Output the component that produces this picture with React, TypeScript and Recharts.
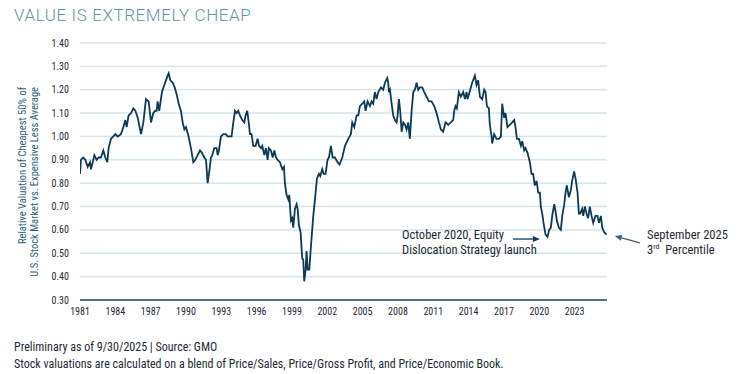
import { LineChart, Line, XAxis, YAxis, CartesianGrid, ReferenceLine } from 'recharts';

// relative valuation (decimal year / value)
const years = [
    1981.00, 1981.08, 1981.28, 1981.45, 1981.65, 1981.85, 1981.93, 1982.08, 1982.22, 1982.41,
    1982.58, 1982.78, 1982.98, 1983.15, 1983.32, 1983.43, 1983.63, 1983.83, 1984.00, 1984.20,
    1984.48, 1984.68, 1984.85, 1984.96, 1985.13, 1985.33, 1985.53, 1985.70, 1985.90, 1986.18,
    1986.38, 1986.60, 1986.83, 1987.03, 1987.22, 1987.39, 1987.51, 1987.59, 1987.73, 1987.96,
    1988.16, 1988.30, 1988.44, 1988.53, 1988.67, 1988.87, 1989.04, 1989.21, 1989.38, 1989.57,
    1989.72, 1989.86, 1990.00, 1990.22, 1990.42, 1990.62, 1990.79, 1990.99, 1991.19, 1991.36,
    1991.55, 1991.70, 1991.84, 1991.98, 1992.12, 1992.23, 1992.40, 1992.60, 1992.69, 1992.80,
    1992.97, 1993.17, 1993.37, 1993.54, 1993.73, 1993.87, 1994.02, 1994.16, 1994.30, 1994.44,
    1994.58, 1994.78, 1994.95, 1995.06, 1995.20, 1995.35, 1995.43, 1995.57, 1995.71, 1995.91,
    1996.08, 1996.20, 1996.37, 1996.48, 1996.65, 1996.79, 1996.93, 1997.04, 1997.21, 1997.36,
    1997.50, 1997.64, 1997.78, 1997.98, 1998.18, 1998.32, 1998.40, 1998.54, 1998.69, 1998.77,
    1998.91, 1999.02, 1999.11, 1999.25, 1999.39, 1999.48, 1999.59, 1999.73, 1999.87, 1999.96,
    2000.04, 2000.16, 2000.24, 2000.33, 2000.47, 2000.61, 2000.81, 2000.95, 2001.12, 2001.29,
    2001.40, 2001.57, 2001.69, 2001.85, 2002.02, 2002.14, 2002.31, 2002.45, 2002.65, 2002.87,
    2003.04, 2003.27, 2003.50, 2003.78, 2004.00, 2004.12, 2004.29, 2004.49, 2004.63, 2004.77,
    2004.97, 2005.14, 2005.25, 2005.42, 2005.62, 2005.76, 2005.90, 2006.04, 2006.18, 2006.33,
    2006.55, 2006.75, 2006.89, 2007.09, 2007.17, 2007.23, 2007.32, 2007.46, 2007.60, 2007.74,
    2007.88, 2007.97, 2008.08, 2008.19, 2008.31, 2008.45, 2008.59, 2008.73, 2008.87, 2009.01,
    2009.16, 2009.30, 2009.44, 2009.58, 2009.72, 2009.86, 2010.06, 2010.23, 2010.43, 2010.63,
    2010.85, 2011.08, 2011.28, 2011.48, 2011.65, 2011.84, 2012.04, 2012.27, 2012.49, 2012.69,
    2012.78, 2012.89, 2013.00, 2013.17, 2013.34, 2013.54, 2013.68, 2013.82, 2013.91, 2014.08,
    2014.30, 2014.53, 2014.67, 2014.81, 2014.96, 2015.15, 2015.32, 2015.44, 2015.55, 2015.72,
    2015.80, 2015.95, 2016.00, 2016.17, 2016.37, 2016.57, 2016.74, 2016.85, 2017.02, 2017.13,
    2017.30, 2017.50, 2017.70, 2017.87, 2017.98, 2018.10, 2018.27, 2018.44, 2018.55, 2018.72,
    2018.83, 2019.00, 2019.20, 2019.34, 2019.48, 2019.62, 2019.77, 2019.91, 2020.05, 2020.13,
    2020.25, 2020.36, 2020.53, 2020.70, 2020.84, 2020.98, 2021.10, 2021.27, 2021.38, 2021.49,
    2021.66, 2021.83, 2021.95, 2022.12, 2022.23, 2022.34, 2022.51, 2022.68, 2022.79, 2022.96,
    2023.08, 2023.25, 2023.36, 2023.47, 2023.64, 2023.73, 2023.87, 2024.01, 2024.15, 2024.29,
    2024.44, 2024.58, 2024.77, 2024.94, 2025.06, 2025.23, 2025.34, 2025.51, 2025.71,
];

const values = [
    0.84, 0.90, 0.91, 0.90, 0.87, 0.89, 0.86, 0.89, 0.92, 0.90,
    0.91, 0.91, 0.94, 0.91, 0.89, 0.95, 0.99, 1.00, 1.01, 1.00,
    1.01, 1.04, 1.07, 1.04, 1.09, 1.10, 1.12, 1.11, 1.08, 1.01,
    1.06, 1.16, 1.15, 1.06, 1.10, 1.11, 1.11, 1.15, 1.11, 1.19,
    1.22, 1.24, 1.26, 1.27, 1.24, 1.23, 1.21, 1.18, 1.14, 1.11,
    1.06, 1.03, 1.04, 1.00, 0.95, 0.89, 0.90, 0.92, 0.94, 0.93,
    0.91, 0.90, 0.80, 0.85, 0.91, 0.92, 0.95, 0.95, 0.92, 0.94,
    1.00, 1.01, 1.01, 1.00, 1.00, 1.00, 1.06, 1.11, 1.10, 1.11,
    1.09, 1.07, 1.06, 1.09, 1.11, 1.05, 1.01, 1.01, 0.96, 0.96,
    0.99, 0.96, 0.95, 0.96, 0.92, 0.95, 0.90, 0.95, 0.94, 0.91,
    0.94, 0.91, 0.90, 0.89, 0.86, 0.87, 0.80, 0.75, 0.73, 0.75,
    0.64, 0.65, 0.61, 0.69, 0.71, 0.69, 0.62, 0.59, 0.48, 0.47,
    0.38, 0.43, 0.51, 0.43, 0.43, 0.53, 0.66, 0.73, 0.82, 0.84,
    0.83, 0.86, 0.84, 0.84, 0.90, 0.91, 0.96, 0.91, 0.91, 0.89,
    0.88, 0.91, 0.96, 0.99, 1.01, 1.06, 1.04, 1.09, 1.09, 1.13,
    1.14, 1.15, 1.11, 1.15, 1.13, 1.15, 1.14, 1.19, 1.16, 1.19,
    1.21, 1.20, 1.23, 1.25, 1.23, 1.19, 1.20, 1.14, 1.09, 1.07,
    1.06, 1.09, 1.16, 1.11, 1.02, 1.06, 1.05, 1.03, 1.06, 0.99,
    1.11, 1.19, 1.20, 1.23, 1.20, 1.21, 1.21, 1.19, 1.17, 1.15,
    1.15, 1.13, 1.10, 1.06, 1.03, 1.02, 1.06, 1.05, 1.06, 1.07,
    1.11, 1.13, 1.12, 1.19, 1.17, 1.19, 1.16, 1.19, 1.16, 1.19,
    1.23, 1.26, 1.22, 1.24, 1.17, 1.16, 1.20, 1.19, 1.13, 1.12,
    1.05, 1.00, 0.97, 1.01, 0.99, 0.99, 1.00, 1.14, 1.08, 1.10,
    1.04, 1.05, 1.06, 1.07, 1.04, 0.99, 0.99, 0.96, 0.98, 0.94,
    0.95, 0.93, 0.89, 0.84, 0.84, 0.79, 0.81, 0.76, 0.76, 0.70,
    0.67, 0.63, 0.58, 0.57, 0.60, 0.61, 0.66, 0.71, 0.68, 0.64,
    0.61, 0.60, 0.66, 0.71, 0.76, 0.79, 0.74, 0.77, 0.81, 0.85,
    0.82, 0.76, 0.67, 0.67, 0.69, 0.66, 0.70, 0.67, 0.65, 0.70,
    0.66, 0.63, 0.66, 0.66, 0.63, 0.66, 0.61, 0.59, 0.58,
];

const xTicks = [1981, 1984, 1987, 1990, 1993, 1996, 1999, 2002, 2005, 2008, 2011, 2014, 2017, 2020, 2023];
const yTicks = [0.3, 0.4, 0.5, 0.6, 0.7, 0.8, 0.9, 1.0, 1.1, 1.2, 1.3, 1.4];

const data = years.map((year, i) => ({ year, value: values[i] }));

const FONT = "'Liberation Sans Narrow', 'Roboto Condensed', 'DejaVu Sans Condensed', Roboto, sans-serif";
const LINE_COLOR = '#0c3a57';
const TEXT_DARK = '#1e2a36';

// arrow drawn as a reference segment with a small head at the end point
function Arrow(props: any) {
    const { x1, y1, x2, y2, stroke } = props;
    if ([x1, y1, x2, y2].some((v) => v == null || isNaN(v))) return null;
    const a = Math.atan2(y2 - y1, x2 - x1);
    const len = 7, half = 3;
    const bx = x2 - len * Math.cos(a), by = y2 - len * Math.sin(a);
    const p = `${x2},${y2} ${bx + half * Math.sin(a)},${by - half * Math.cos(a)} ${bx - half * Math.sin(a)},${by + half * Math.cos(a)}`;
    return (
        <g>
            <line x1={x1} y1={y1} x2={bx} y2={by} stroke={stroke} strokeWidth={1.3} />
            <polygon points={p} fill={stroke} />
        </g>
    );
}

export default function App() {
    return (
        <div style={{ position: 'absolute', left: 0, top: 0, width: 748, height: 374, background: '#fff', fontFamily: FONT }}>
            <div style={{ position: 'absolute', left: 14, top: 5, fontFamily: 'Roboto, sans-serif', fontWeight: 300, fontSize: 17, letterSpacing: 0.6, color: '#5e95a2' }}>
                VALUE IS EXTREMELY CHEAP
            </div>

            <div style={{
                position: 'absolute', left: -66, top: 170, width: 190, height: 24,
                transform: 'rotate(-90deg)', transformOrigin: 'center',
                textAlign: 'right', fontSize: 10.5, lineHeight: '12px', color: '#2d5f7c', whiteSpace: 'nowrap',
            }}>
                <div>Relative Valuation of Cheapest 50% of</div>
                <div>U.S. Stock Market vs. Expensive Less Average</div>
            </div>

            <div style={{ position: 'absolute', left: 0, top: 0 }}>
                <LineChart width={748} height={374} data={data} margin={{ top: 43, right: 141, bottom: 54, left: 0 }}>
                    <CartesianGrid horizontal vertical={false} stroke="#d3e5ee" strokeWidth={1.5} />
                    <XAxis
                        dataKey="year"
                        type="number"
                        domain={[1981, 2025.75]}
                        ticks={xTicks}
                        interval={0}
                        allowDataOverflow
                        height={20}
                        tickLine={false}
                        tickSize={0}
                        tickMargin={8}
                        axisLine={{ stroke: '#24475c', strokeWidth: 1.5 }}
                        tick={{ fontSize: 10, fill: TEXT_DARK, fontFamily: FONT }}
                    />
                    <YAxis
                        type="number"
                        domain={[0.3, 1.4]}
                        ticks={yTicks}
                        interval={0}
                        width={80}
                        axisLine={false}
                        tickLine={false}
                        tickSize={0}
                        tickMargin={11}
                        tickFormatter={(v: number) => v.toFixed(2)}
                        tick={{ fontSize: 10, fill: TEXT_DARK, fontFamily: FONT }}
                    />
                    <Line
                        type="linear"
                        dataKey="value"
                        stroke={LINE_COLOR}
                        strokeWidth={1.8}
                        dot={false}
                        isAnimationActive={false}
                    />
                    <ReferenceLine
                        segment={[{ x: 2017.76, y: 0.561 }, { x: 2020.05, y: 0.561 }]}
                        stroke={LINE_COLOR}
                        ifOverflow="visible"
                        shape={Arrow}
                    />
                    <ReferenceLine
                        segment={[{ x: 2028.54, y: 0.544 }, { x: 2026.42, y: 0.574 }]}
                        stroke="#3e5f76"
                        ifOverflow="visible"
                        shape={Arrow}
                    />
                </LineChart>
            </div>

            <div style={{ position: 'absolute', left: 402, top: 227, fontSize: 12.5, lineHeight: '15px', color: TEXT_DARK, whiteSpace: 'nowrap' }}>
                <div>October 2020, Equity</div>
                <div>Dislocation Strategy launch</div>
            </div>
            <div style={{ position: 'absolute', left: 647, top: 227, fontSize: 12.5, lineHeight: '15px', color: TEXT_DARK, whiteSpace: 'nowrap' }}>
                <div>September 2025</div>
                <div>3<sup style={{ fontSize: 8, lineHeight: 0 }}>rd</sup>&nbsp; Percentile</div>
            </div>

            <div style={{ position: 'absolute', left: 14, top: 339, fontSize: 12, lineHeight: '17px', color: TEXT_DARK, whiteSpace: 'nowrap' }}>
                <div>Preliminary as of 9/30/2025 | Source: GMO</div>
                <div>Stock valuations are calculated on a blend of Price/Sales, Price/Gross Profit, and Price/Economic Book.</div>
            </div>
        </div>
    );
}
